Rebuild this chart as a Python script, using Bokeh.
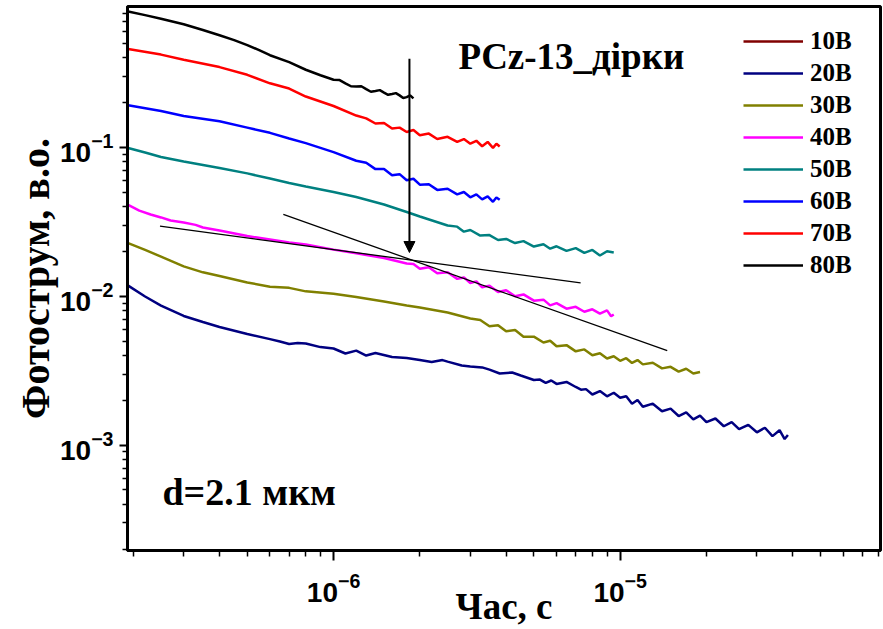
from math import nan

from bokeh.plotting import figure
from bokeh.models import (Range1d, FixedTicker, Label, Arrow, NormalHead,
                          ColumnDataSource, Title)
from bokeh.embed import file_html
from bokeh.resources import INLINE

# Transient photocurrent, PCz-13 (holes), d = 2.1 um.
# Time in seconds, photocurrent in arbitrary units, one pair of lists per voltage.

t_10 = [nan]
i_10 = [nan]

t_20 = [1.92e-7, 2.2e-7, 2.5e-7, 3e-7, 3.5e-7, 4e-7, 5e-7, 6e-7, 6.5e-7, 7e-7,
        7.5e-7, 8e-7, 9e-7, 1e-6, 1.1e-6, 1.2e-6, 1.3e-6, 1.4e-6, 1.6e-6, 1.8e-6,
        2e-6, 2.2e-6, 2.4e-6, 2.5e-6, 2.8e-6, 3e-6, 3.3e-6, 3.5e-6, 3.8e-6, 4.2e-6,
        4.5e-6, 5e-6, 5.25e-6, 5.5e-6, 5.75e-6, 6e-6, 6.5e-6, 7e-6, 7.3e-6, 7.6e-6,
        8e-6, 8.5e-6, 9e-6, 9.5e-6, 1e-5, 1.05e-5, 1.1e-5, 1.15e-5, 1.2e-5, 1.3e-5,
        1.4e-5, 1.5e-5, 1.6e-5, 1.7e-5, 1.8e-5, 1.9e-5, 2e-5, 2.15e-5, 2.3e-5, 2.45e-5,
        2.6e-5, 2.8e-5, 3e-5, 3.2e-5, 3.4e-5, 3.6e-5, 3.75e-5, 3.85e-5]
i_20 = [0.0118, 0.00997, 0.00867, 0.00738, 0.00672, 0.00622, 0.00558, 0.00516, 0.00497, 0.00478,
        0.00486, 0.00482, 0.00456, 0.00446, 0.00413, 0.00432, 0.00400, 0.00416, 0.00391, 0.00385,
        0.00373, 0.00362, 0.00373, 0.00364, 0.00343, 0.00338, 0.00333, 0.00322, 0.00303, 0.00308,
        0.00294, 0.00274, 0.00276, 0.00262, 0.00272, 0.00258, 0.00266, 0.00246, 0.00236, 0.00238,
        0.00219, 0.00231, 0.00213, 0.00225, 0.00208, 0.00213, 0.00190, 0.00201, 0.00181, 0.00190,
        0.00169, 0.00176, 0.00157, 0.00166, 0.00149, 0.00158, 0.00143, 0.00151, 0.00134, 0.00143,
        0.00128, 0.00137, 0.00122, 0.00131, 0.00115, 0.00126, 0.00110, 0.00117]

t_30 = [1.92e-7, 2.2e-7, 2.5e-7, 3e-7, 3.5e-7, 4e-7, 5e-7, 6e-7, 7e-7, 8e-7,
        1e-6, 1.2e-6, 1.5e-6, 1.8e-6, 2e-6, 2.5e-6, 3e-6, 3.25e-6, 3.5e-6, 3.75e-6,
        4e-6, 4.3e-6, 4.6e-6, 5e-6, 5.4e-6, 5.7e-6, 6e-6, 6.5e-6, 7e-6, 7.5e-6,
        8e-6, 8.5e-6, 9e-6, 9.5e-6, 1e-5, 1.05e-5, 1.1e-5, 1.15e-5, 1.2e-5, 1.3e-5,
        1.4e-5, 1.5e-5, 1.6e-5, 1.7e-5, 1.8e-5, 1.9e-5]
i_30 = [0.0228, 0.0205, 0.0185, 0.0159, 0.0145, 0.0137, 0.0124, 0.0116, 0.0114, 0.0108,
        0.0104, 0.00989, 0.00923, 0.00868, 0.00841, 0.00778, 0.00709, 0.00694, 0.00630, 0.00640,
        0.00582, 0.00594, 0.00536, 0.00536, 0.00490, 0.00503, 0.00462, 0.00470, 0.00427, 0.00440,
        0.00402, 0.00415, 0.00382, 0.00396, 0.00369, 0.00384, 0.00357, 0.00373, 0.00349, 0.00358,
        0.00328, 0.00336, 0.00312, 0.00326, 0.00303, 0.00310]

t_40 = [1.92e-7, 2.1e-7, 2.3e-7, 2.5e-7, 2.7e-7, 3e-7, 3.3e-7, 3.5e-7, 4e-7, 5e-7,
        6e-7, 7e-7, 8e-7, 1e-6, 1.2e-6, 1.5e-6, 1.8e-6, 1.9e-6, 2e-6, 2.15e-6,
        2.3e-6, 2.5e-6, 2.7e-6, 2.85e-6, 3e-6, 3.15e-6, 3.3e-6, 3.5e-6, 3.75e-6, 4e-6,
        4.3e-6, 4.6e-6, 5e-6, 5.4e-6, 5.7e-6, 6e-6, 6.5e-6, 7e-6, 7.5e-6, 8e-6,
        8.5e-6, 9e-6, 9.3e-6, 9.5e-6]
i_40 = [0.0411, 0.0377, 0.0355, 0.0339, 0.0323, 0.0313, 0.0302, 0.0290, 0.0277, 0.0254,
        0.0241, 0.0230, 0.0223, 0.0206, 0.0195, 0.0181, 0.0166, 0.0165, 0.0153, 0.0157,
        0.0143, 0.0145, 0.0131, 0.0134, 0.0123, 0.0126, 0.0115, 0.0118, 0.0107, 0.0110,
        0.0100, 0.0103, 0.00935, 0.00950, 0.00870, 0.00900, 0.00826, 0.00850, 0.00788, 0.00818,
        0.00765, 0.00805, 0.00735, 0.00755]

t_50 = [1.92e-7, 2.2e-7, 2.5e-7, 3e-7, 4e-7, 5e-7, 6e-7, 7e-7, 8e-7, 1e-6,
        1.2e-6, 1.5e-6, 1.8e-6, 2e-6, 2.5e-6, 2.7e-6, 2.85e-6, 3e-6, 3.25e-6, 3.5e-6,
        3.75e-6, 4e-6, 4.3e-6, 4.6e-6, 5e-6, 5.4e-6, 5.7e-6, 6e-6, 6.5e-6, 7e-6,
        7.5e-6, 8e-6, 8.5e-6, 9e-6, 9.5e-6]
i_50 = [0.0992, 0.0926, 0.0863, 0.0805, 0.0728, 0.0670, 0.0619, 0.0577, 0.0547, 0.0502,
        0.0465, 0.0414, 0.0369, 0.0344, 0.0299, 0.0294, 0.0272, 0.0279, 0.0256, 0.0258,
        0.0239, 0.0243, 0.0228, 0.0235, 0.0216, 0.0224, 0.0209, 0.0217, 0.0202, 0.0211,
        0.0196, 0.0205, 0.0188, 0.0201, 0.0197]

t_60 = [1.92e-7, 2.5e-7, 3e-7, 4e-7, 5e-7, 6e-7, 7e-7, 8e-7, 1e-6, 1.2e-6,
        1.3e-6, 1.4e-6, 1.5e-6, 1.6e-6, 1.7e-6, 1.8e-6, 1.9e-6, 2e-6, 2.15e-6, 2.3e-6,
        2.5e-6, 2.7e-6, 2.85e-6, 3e-6, 3.15e-6, 3.3e-6, 3.45e-6, 3.6e-6, 3.7e-6, 3.8e-6]
i_60 = [0.192, 0.176, 0.163, 0.150, 0.136, 0.1255, 0.115, 0.107, 0.0931, 0.0815,
        0.0790, 0.0716, 0.0718, 0.0652, 0.0662, 0.0603, 0.0617, 0.0563, 0.0566, 0.0519,
        0.0528, 0.0484, 0.0502, 0.0463, 0.0484, 0.0448, 0.0470, 0.0432, 0.0462, 0.0446]

t_70 = [1.92e-7, 2.5e-7, 3e-7, 4e-7, 5e-7, 6e-7, 7e-7, 8e-7, 1e-6, 1.2e-6,
        1.3e-6, 1.4e-6, 1.5e-6, 1.6e-6, 1.7e-6, 1.8e-6, 1.9e-6, 2e-6, 2.15e-6, 2.3e-6,
        2.5e-6, 2.7e-6, 2.85e-6, 3e-6, 3.15e-6, 3.3e-6, 3.45e-6, 3.6e-6, 3.7e-6, 3.8e-6]
i_70 = [0.459, 0.421, 0.389, 0.347, 0.308, 0.270, 0.249, 0.220, 0.190, 0.164,
        0.157, 0.145, 0.146, 0.134, 0.136, 0.127, 0.131, 0.121, 0.124, 0.114,
        0.118, 0.109, 0.114, 0.106, 0.111, 0.102, 0.109, 0.0995, 0.106, 0.1015]

t_80 = [1.92e-7, 2.2e-7, 2.5e-7, 3e-7, 3.5e-7, 4e-7, 4.5e-7, 5e-7, 5.5e-7, 6e-7,
        7e-7, 8e-7, 9e-7, 1e-6, 1.05e-6, 1.1e-6, 1.15e-6, 1.2e-6, 1.25e-6, 1.3e-6,
        1.35e-6, 1.4e-6, 1.45e-6, 1.5e-6, 1.55e-6, 1.6e-6, 1.65e-6, 1.7e-6, 1.75e-6, 1.8e-6,
        1.85e-6, 1.9e-6]
i_80 = [0.820, 0.775, 0.734, 0.673, 0.616, 0.568, 0.527, 0.488, 0.451, 0.417,
        0.375, 0.333, 0.306, 0.2855, 0.284, 0.270, 0.258, 0.257, 0.258, 0.247,
        0.237, 0.240, 0.243, 0.234, 0.226, 0.229, 0.232, 0.224, 0.215, 0.218,
        0.224, 0.214]

voltages = ["10В", "20В", "30В", "40В", "50В", "60В", "70В", "80В"]
colors = ["#800000", "#000080", "#808000", "#FF00FF", "#008080", "#0000FF", "#FF0000", "#000000"]
times = [t_10, t_20, t_30, t_40, t_50, t_60, t_70, t_80]
currents = [i_10, i_20, i_30, i_40, i_50, i_60, i_70, i_80]

# Tangents to the 40 V curve before and after the kink, and the transit time marker
fit_early_t = [2.48e-7, 7.28e-6]
fit_early_i = [0.0296, 0.0123]
fit_late_t = [6.68e-7, 1.46e-5]
fit_late_i = [0.0355, 0.00432]
transit_t = 1.84e-6
arrow_from_i = 0.395
arrow_to_i = 0.0197

x_major = [1e-6, 1e-5]
y_major = [1e-3, 1e-2, 1e-1]
x_minor = [m * 10.0 ** e for e in (-7, -6, -5) for m in range(2, 10)]
y_minor = [m * 10.0 ** e for e in (-4, -3, -2, -1) for m in range(2, 10)]

serif = "Liberation Serif"

p = figure(width=883, height=629, x_axis_type="log", y_axis_type="log",
           x_range=Range1d(1.91e-7, 8.1e-5), y_range=Range1d(1.96e-4, 0.886),
           output_backend="svg", toolbar_location=None,
           min_border_left=127, min_border_right=3, min_border_top=6,
           min_border_bottom=79)
p.background_fill_color = "white"
p.border_fill_color = "white"
p.grid.visible = False
p.outline_line_color = "black"
p.outline_line_width = 3

for lab, col, tt, ii in zip(voltages, colors, times, currents):
    src = ColumnDataSource(data=dict(t=tt, i=ii))
    p.line("t", "i", source=src, line_color=col, line_width=2.5, legend_label=lab)

p.line(fit_early_t, fit_early_i, line_color="black", line_width=1.3)
p.line(fit_late_t, fit_late_i, line_color="black", line_width=1.3)

p.add_layout(Arrow(end=NormalHead(size=11, fill_color="black", line_color="black"),
                   x_start=transit_t, y_start=arrow_from_i,
                   x_end=transit_t, y_end=arrow_to_i,
                   line_color="black", line_width=2))

for ax, major, minor in ((p.xaxis[0], x_major, x_minor), (p.yaxis[0], y_major, y_minor)):
    ax.ticker = FixedTicker(ticks=major, minor_ticks=minor)
    ax.axis_line_width = 3
    ax.axis_line_color = "black"
    ax.major_tick_in = 0
    ax.minor_tick_in = 0
    ax.major_tick_line_width = 2
    ax.minor_tick_line_width = 1.5
    ax.major_label_text_font = "Liberation Sans"
    ax.major_label_text_font_style = "bold"
    ax.major_label_text_font_size = "28px"
    ax.major_label_text_color = "black"

p.xaxis.major_tick_out = 10
p.xaxis.minor_tick_out = 6
p.xaxis.major_label_standoff = 12
p.xaxis.axis_label = "Час, с"
p.xaxis.axis_label_text_font = serif
p.xaxis.axis_label_text_font_style = "bold"
p.xaxis.axis_label_text_font_size = "37px"
p.xaxis.axis_label_text_color = "black"
p.xaxis.axis_label_standoff = -19

p.yaxis.major_tick_out = 8
p.yaxis.minor_tick_out = 5
p.yaxis.major_label_standoff = 6

p.add_layout(Title(text="Фотострум, в.о.", align="center", offset=-40, standoff=0,
                   text_font=serif, text_font_style="bold", text_font_size="40px",
                   text_color="black"), "left")

p.add_layout(Label(x=2.73e-6, y=0.409, text="PCz-13_дірки",
                   text_align="left", text_baseline="alphabetic", text_color="black",
                   text_font=serif, text_font_style="bold", text_font_size="37px"))
p.add_layout(Label(x=2.53e-7, y=4.87e-4, text="d=2.1 мкм",
                   text_align="left", text_baseline="alphabetic", text_color="black",
                   text_font=serif, text_font_style="bold", text_font_size="38px"))

lg = p.legend[0]
lg.location = (616, 269)
lg.border_line_color = None
lg.background_fill_alpha = 0
lg.padding = 0
lg.margin = 0
lg.spacing = 0
lg.glyph_width = 60
lg.glyph_height = 32
lg.label_height = 32
lg.label_standoff = 7
lg.label_text_font = serif
lg.label_text_font_style = "bold"
lg.label_text_font_size = "25px"
lg.label_text_color = "black"

open("out.html", "w").write(file_html(p, INLINE))
